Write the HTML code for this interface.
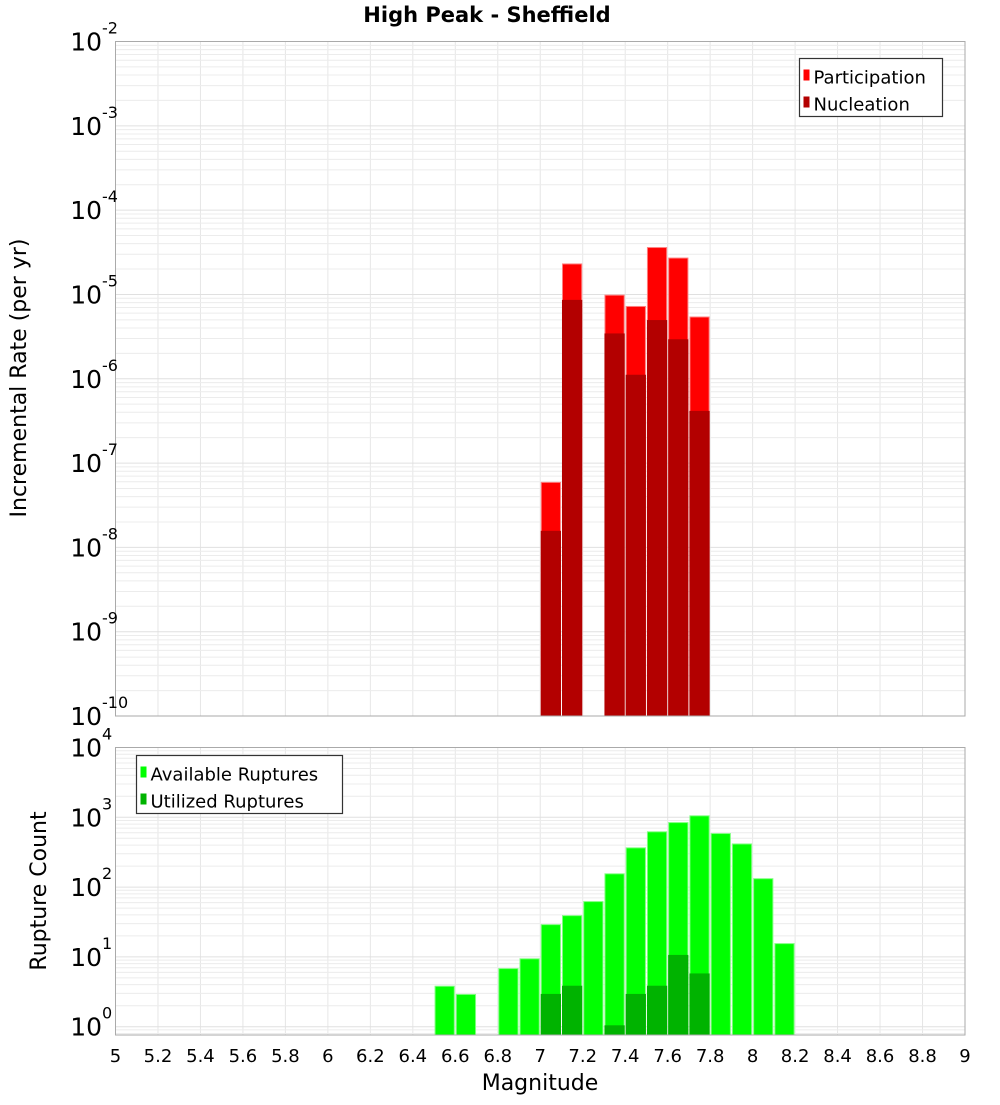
<!DOCTYPE html>
<html><head><meta charset="utf-8"><style>
body{margin:0;background:#fff;}
text{font-family:"DejaVu Sans","Liberation Sans",sans-serif;fill:#000;}
</style></head><body>
<svg id="chart" width="1000" height="1100" xmlns="http://www.w3.org/2000/svg">
<text x="487" y="22" text-anchor="middle" font-weight="bold" font-size="21">High Peak - Sheffield</text>
<g id="top"></g><g id="bot"></g><g id="xax"></g>
<text transform="translate(26,378) rotate(-90)" text-anchor="middle" font-size="22">Incremental Rate (per yr)</text>
<text transform="translate(46,891) rotate(-90)" text-anchor="middle" font-size="22">Rupture Count</text>
<text x="540" y="1090" text-anchor="middle" font-size="22">Magnitude</text>
</svg>
<script>
const topMags=[7.05,7.15,7.35,7.45,7.55,7.65,7.75];
const participation=[5.9e-8,2.3e-5,9.8e-6,7.2e-6,3.6e-5,2.7e-5,5.4e-6];
const nucleation=[1.55e-8,8.5e-6,3.4e-6,1.1e-6,4.9e-6,2.9e-6,4.1e-7];
const availMags=[6.55,6.65,6.85,6.95,7.05,7.15,7.25,7.35,7.45,7.55,7.65,7.75,7.85,7.95,8.05,8.15];
const available=[3.8,2.9,6.8,9.4,29,39,62,155,365,620,840,1050,585,415,132,15.5];
const utilMags=[7.05,7.15,7.35,7.45,7.55,7.65,7.75];
const utilized=[2.9,3.8,1.03,2.9,3.8,10.5,5.7];
const xTicks=[5,5.2,5.4,5.6,5.8,6,6.2,6.4,6.6,6.8,7,7.2,7.4,7.6,7.8,8,8.2,8.4,8.6,8.8,9];
const topDecades=[-2,-3,-4,-5,-6,-7,-8,-9,-10];
const botDecades=[0,1,2,3,4];
const NS="http://www.w3.org/2000/svg";
const X0=115.5,X1=965;
const xs=m=>X0+(m-5)/4*(X1-X0);
const T0=41.5,T1=716;
const yTop=v=>T0+(-2-Math.log10(v))/8*(T1-T0);
const B0=747.5,B1=1035,Bd=69.8;
const yBot=v=>B0+(4-Math.log10(v))*Bd;
function mk(p,tag,a,txt){const e=document.createElementNS(NS,tag);for(const k in a)e.setAttribute(k,a[k]);if(txt!==undefined)e.textContent=txt;p.appendChild(e);return e;}
function grid(g,y0,y1,yf,dmin,dmax,name){
  for(const t of xTicks){const l=mk(g,'line',{x1:xs(t),x2:xs(t),y1:y0,y2:y1,stroke:'#e6e6e6'});
  
  }
  for(let d=dmin-1;d<=dmax;d++)for(let k=1;k<10;k++){const v=k*Math.pow(10,d);const y=yf(v);if(y<y0-0.1||y>y1+0.1)continue;
    const l=mk(g,'line',{x1:X0,x2:X1,y1:y,y2:y,stroke:k==1?'#e0e0e0':'#ececec'});
    
    }
}
function bars(g,mags,vals,yf,ybase,fill,stroke,name){
  mags.forEach((m,i)=>{const xa=xs(m-0.05)+1,xb=xs(m+0.05)-1;const y=yf(vals[i]);
    const r=mk(g,'rect',{x:xa,y:y,width:xb-xa,height:ybase-y,fill:fill,stroke:stroke,'stroke-width':1});
    
    });
}
function ylabels(g,decs,yf){
  for(const d of decs){const y=yf(Math.pow(10,d))+9;
    const t=mk(g,'text',{x:102,y:y,'text-anchor':'end','font-size':25},'10');
    
    
    const s=mk(g,'text',{x:102,y:y-17,'font-size':16},String(d));
    
    }
}
function legend(g,x,y,w,items,name){
  const r=mk(g,'rect',{x:x,y:y,width:w,height:58,fill:'#fff',stroke:'#333','stroke-width':1.2});
  
  
  items.forEach((it,i)=>{const yy=y+19+i*27;
    const s=mk(g,'rect',{x:x+4,y:yy-8,width:6,height:11,fill:it[1]});
    
    
    const t=mk(g,'text',{x:x+14,y:yy+6,'font-size':18},it[0]);
    
    });
}
const gt=document.getElementById('top');
grid(gt,T0,T1,yTop,-10,-2,'top');
bars(gt,topMags,participation,yTop,T1,'#ff0000','#ff8080','participation-bar');
bars(gt,topMags,nucleation,yTop,T1,'#b30000','#b30000','nucleation-bar');
const ft=mk(gt,'rect',{x:X0,y:T0,width:X1-X0,height:T1-T0,fill:'none',stroke:'#aaa'});


ylabels(gt,topDecades,yTop);
legend(gt,799.5,58.5,143,[['Participation','#ff0000'],['Nucleation','#b30000']],'top-legend');
const gb=document.getElementById('bot');
grid(gb,B0,B1,yBot,-1,4,'bottom');
bars(gb,availMags,available,yBot,B1,'#00ff00','#80ff80','available-bar');
bars(gb,utilMags,utilized,yBot,B1,'#00b300','#00b300','utilized-bar');
const fb=mk(gb,'rect',{x:X0,y:B0,width:X1-X0,height:B1-B0,fill:'none',stroke:'#aaa'});


ylabels(gb,botDecades,yBot);
legend(gb,136.5,755.5,206,[['Available Ruptures','#00ff00'],['Utilized Ruptures','#00b300']],'bottom-legend');
const gx=document.getElementById('xax');
for(const t of xTicks){const l=mk(gx,'text',{x:xs(t),y:1062,'text-anchor':'middle','font-size':18},String(t));
  
  }
</script>
</body></html>
